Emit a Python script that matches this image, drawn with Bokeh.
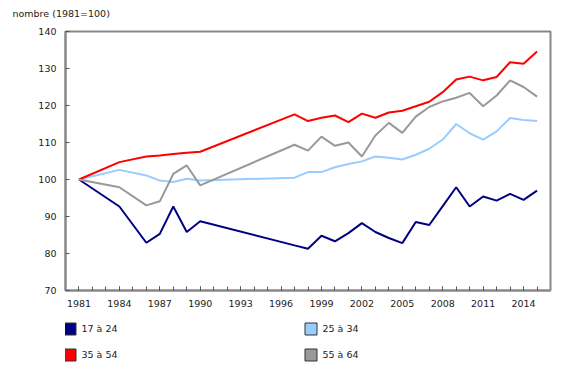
import numpy as np
from bokeh.plotting import figure
from bokeh.models import Range1d, FixedTicker, Legend, LegendItem
from bokeh.layouts import column
from bokeh.embed import file_html
from bokeh.resources import INLINE

years = [1981, 1984, 1986, 1987, 1988, 1989, 1990,
         1997, 1998, 1999, 2000, 2001, 2002, 2003, 2004, 2005, 2006,
         2007, 2008, 2009, 2010, 2011, 2012, 2013, 2014, 2015]

s17_24 = [100, 92.7, 82.9, 85.3, 92.7, 85.8, 88.7,
          82.2, 81.3, 84.8, 83.3, 85.5, 88.2, 85.8, 84.2, 82.8, 88.5,
          87.7, 92.8, 97.9, 92.7, 95.4, 94.3, 96.1, 94.5, 97.0]
s25_34 = [100, 102.6, 101.1, 99.7, 99.3, 100.2, 99.7,
          100.5, 102.0, 102.0, 103.3, 104.2, 104.9, 106.2, 105.9, 105.4, 106.7,
          108.3, 110.8, 115.0, 112.5, 110.8, 113.0, 116.6, 116.1, 115.8]
s35_54 = [100, 104.7, 106.2, 106.5, 106.9, 107.2, 107.5,
          117.6, 115.8, 116.7, 117.3, 115.5, 117.8, 116.7, 118.1, 118.6, 119.8,
          121.0, 123.6, 127.0, 127.8, 126.8, 127.7, 131.7, 131.3, 134.6]
s55_64 = [100, 97.9, 93.0, 94.1, 101.5, 103.8, 98.4,
          109.4, 107.8, 111.6, 109.1, 110.0, 106.2, 111.9, 115.3, 112.6, 117.0,
          119.6, 121.1, 122.1, 123.4, 119.8, 122.7, 126.8, 125.0, 122.4]

labels = ["17 à 24", "25 à 34", "35 à 54", "55 à 64"]
colors = ["#000080", "#99ccff", "#ff0000", "#999999"]
series = [s17_24, s25_34, s35_54, s55_64]

label_years = [1981, 1984, 1987, 1990, 1993, 1996, 1999, 2002, 2005, 2008, 2011, 2014]
all_years = list(range(1981, 2016))
y_ticks = [70, 80, 90, 100, 110, 120, 130, 140]
y_title = "nombre (1981=100)"

FONT = "DejaVu Sans"
FS = "9.5px"
TXT = "#222222"


def bare_figure(h):
    f = figure(width=580, height=h, x_range=Range1d(0, 1), y_range=Range1d(0, 1),
               x_axis_location=None, y_axis_location=None,
               min_border=0, min_border_left=65, min_border_right=30,
               output_backend="svg", toolbar_location=None)
    f.xgrid.visible = False
    f.ygrid.visible = False
    f.outline_line_color = None
    return f


# header with the unit label
head = bare_figure(27)
head.title.text = y_title
head.title.align = "left"
head.title.offset = -53
head.title.standoff = 10
head.title.text_font = FONT
head.title.text_font_size = FS
head.title.text_font_style = "normal"
head.title.text_color = TXT

# main chart
p = figure(width=580, height=287,
           x_range=Range1d(1980, 2016), y_range=Range1d(70, 140),
           min_border_left=65, min_border_right=30,
           min_border_top=4, min_border_bottom=24,
           output_backend="svg", toolbar_location=None)
p.xgrid.visible = False
p.ygrid.visible = False
p.outline_line_color = "#888888"
p.outline_line_width = 2

for ax in (p.xaxis[0], p.yaxis[0]):
    ax.axis_line_color = "#888888"
    ax.axis_line_width = 2
    ax.major_tick_in = 4
    ax.major_tick_out = 0
    ax.minor_tick_in = 4
    ax.minor_tick_out = 0
    ax.major_tick_line_color = "#555555"
    ax.minor_tick_line_color = "#555555"
    ax.major_label_text_font = FONT
    ax.major_label_text_font_size = FS
    ax.major_label_text_color = TXT

p.xaxis[0].ticker = FixedTicker(ticks=label_years, minor_ticks=all_years)
p.xaxis[0].major_label_standoff = 9
p.yaxis[0].ticker = FixedTicker(ticks=y_ticks, minor_ticks=[])
p.yaxis[0].major_label_standoff = 9

for col, s in zip(colors, series):
    p.line(years, s, line_color=col, line_width=2)

# legend strip
lf = bare_figure(56)
items = []
for lab, col in zip(labels, colors):
    r = lf.quad(left=[np.nan], right=[np.nan], top=[np.nan], bottom=[np.nan],
                fill_color=col, line_color="#333333", line_width=1)
    items.append(LegendItem(label=lab, renderers=[r]))

legend = Legend(items=items, location=(-3.5, 8), orientation="horizontal",
                ncols=2, glyph_width=15, glyph_height=15, label_standoff=5,
                label_width=211, label_height=16, spacing=10, padding=0, margin=0,
                border_line_alpha=0, background_fill_alpha=0,
                label_text_font=FONT, label_text_font_size=FS,
                label_text_color=TXT)
lf.add_layout(legend)

layout = column(head, p, lf, spacing=0)
open("out.html", "w").write(file_html(layout, INLINE))
